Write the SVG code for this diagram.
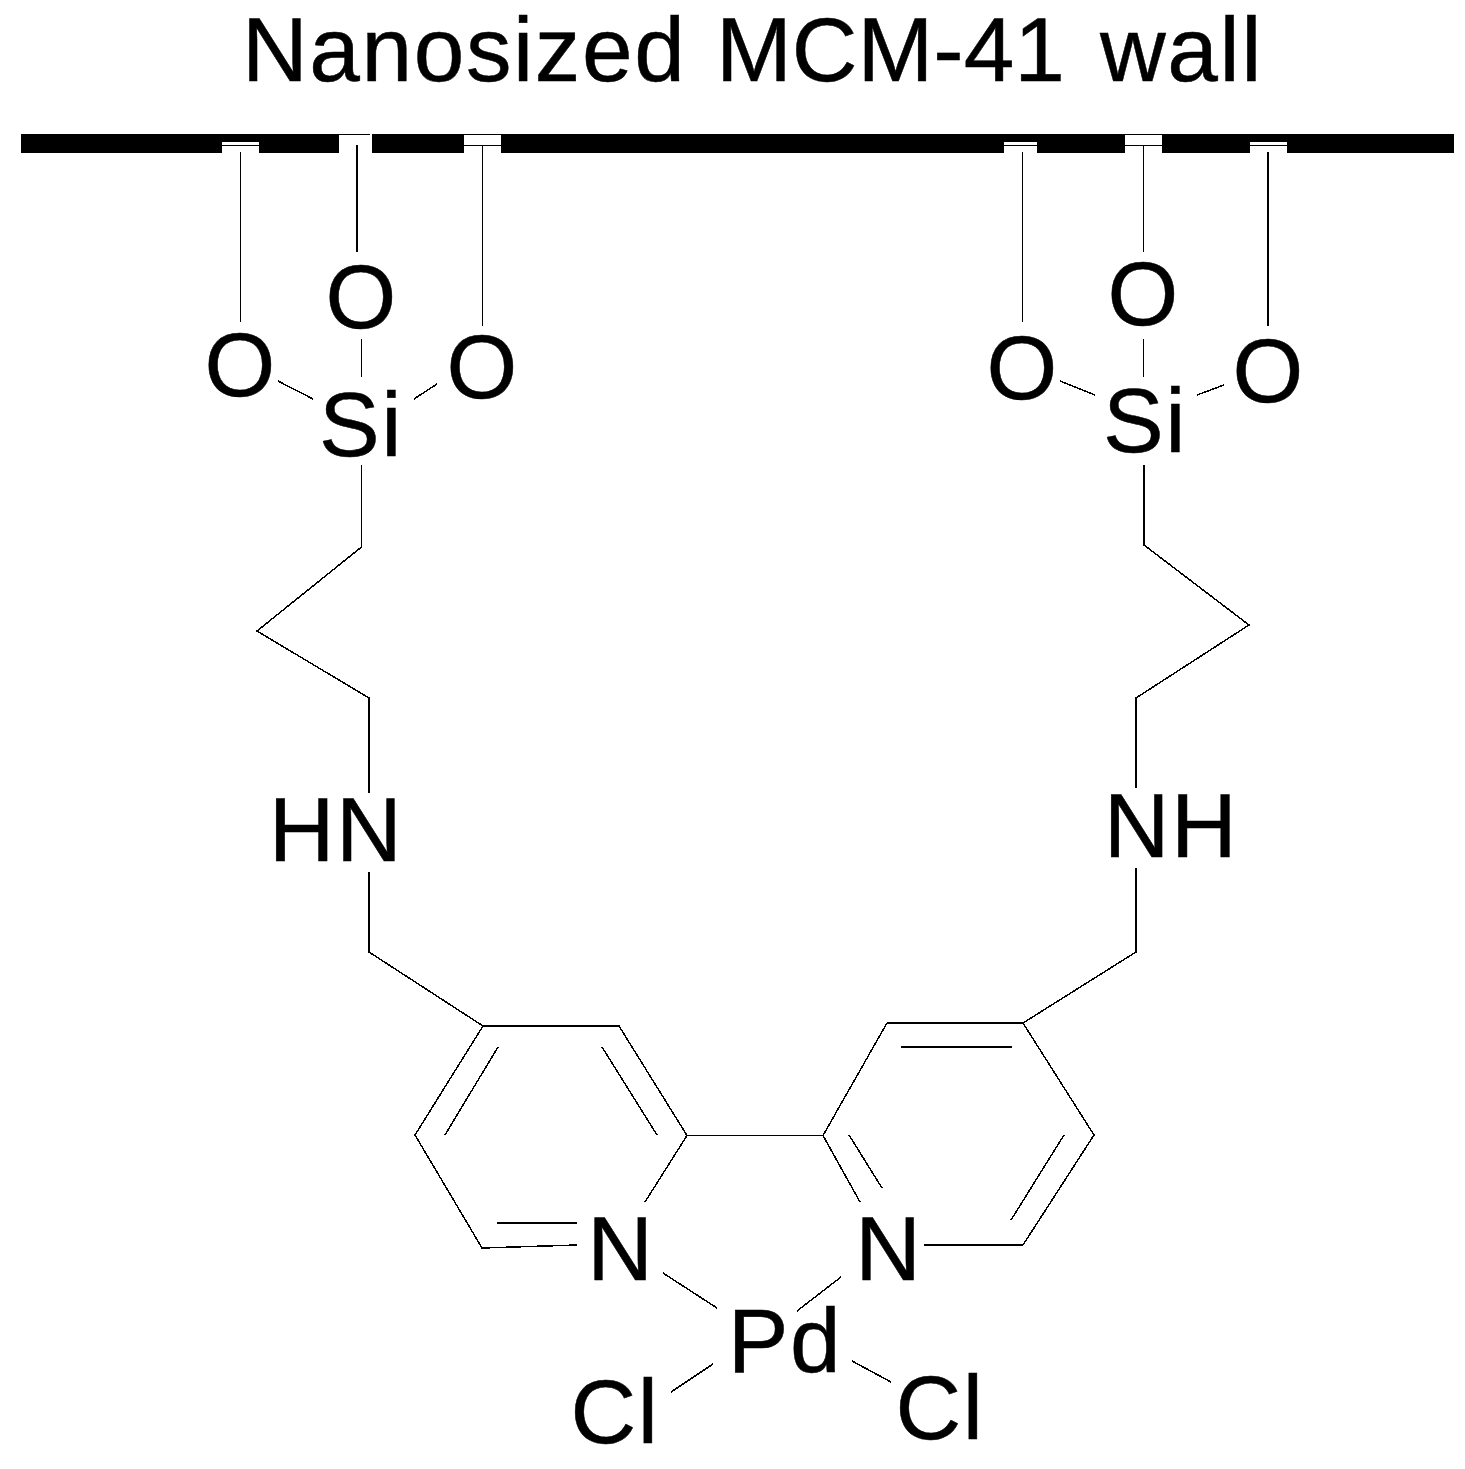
<svg xmlns="http://www.w3.org/2000/svg" width="1465" height="1469" viewBox="0 0 1465 1469">
<style>
text{font-family:"Liberation Sans",Arial,sans-serif;fill:#000;stroke:#000;stroke-width:.5;text-anchor:middle;font-size:91px}
#title{text-anchor:start}
.w{letter-spacing:1.6px}
#connectors path{fill:none;stroke:#000;stroke-width:1.5;shape-rendering:crispEdges}
#connectors path.b{stroke-width:2}
</style>
<rect width="1465" height="1469" fill="#fff"/>
<g id="wall" shape-rendering="crispEdges">
<rect x="21" y="134" width="1433" height="19" fill="#000"/>
<g fill="#fff">
<rect x="222" y="142" width="37" height="3"/><rect x="222" y="146" width="37" height="7"/>
<rect x="339" y="135" width="33" height="18"/><rect x="370" y="134" width="2" height="1"/>
<rect x="464" y="135" width="37" height="10"/><rect x="464" y="146" width="37" height="7"/>
<rect x="1004" y="142" width="33" height="3"/><rect x="1004" y="146" width="33" height="7"/>
<rect x="1125" y="135" width="37" height="10"/><rect x="1125" y="146" width="37" height="7"/>
<rect x="1250" y="142" width="37" height="3"/><rect x="1250" y="146" width="37" height="7"/>
</g>
</g>
<g id="connectors">
<path d="M240.5 152V322M357 145V252M482.5 146V326M361.500 339V377M278 381L313 399M437 384L414 399M361.500 465V547L257 631L369 698V793M369 872V952L483 1026H619L687 1135.500H823L887 1023M1023 1023L1136 952V868M1136 788V698L1249 625L1144 545V465"/>
<path d="M483 1026L415 1135L482 1248L577 1245M687 1135.500L645 1202M663 1273L717 1308M823 1135.500L860 1202M841 1277L797 1311M1023 1245L1094 1135L1023 1023"/>
<path d="M498 1047L445 1135M602 1047L657 1135M497 1223H577M849 1135L882 1188M901 1047H1012M1064 1135L1011 1220"/>
<path d="M713 1364L671 1392M852 1361L891 1382"/>
<path d="M1022.500 152V322M1143.500 146V252M1143.500 339V377M1060 381L1095 395M1224 385L1197 395"/>
<path class="b" d="M887 1023H1023M924 1245H1023M1268 152V326"/>
</g>
<text id="title" y="81"><tspan class="w" x="242">Nanosized </tspan><tspan x="716">MCM-41 </tspan><tspan class="w" x="1100">wall</tspan></text>
<g id="o1"><text x="240" y="396">O</text></g>
<g id="o2"><text x="361" y="328">O</text></g>
<g id="o3"><text x="482" y="398">O</text></g>
<g id="si1"><text class="w" x="361" y="456">Si</text></g>
<g id="o4"><text x="1022" y="399">O</text></g>
<g id="o5"><text x="1143" y="325">O</text></g>
<g id="o6"><text x="1268" y="402">O</text></g>
<g id="si2"><text class="w" x="1145" y="452">Si</text></g>
<g id="hn"><text class="w" x="336" y="861">HN</text></g>
<g id="nh"><text class="w" x="1171" y="857">NH</text></g>
<g id="n1"><text x="620" y="1280">N</text></g>
<g id="n2"><text x="888" y="1280">N</text></g>
<g id="pd"><text class="w" x="785" y="1372">Pd</text></g>
<g id="cl1"><text class="w" x="615" y="1443">Cl</text></g>
<g id="cl2"><text class="w" x="940" y="1439">Cl</text></g>
</svg>
